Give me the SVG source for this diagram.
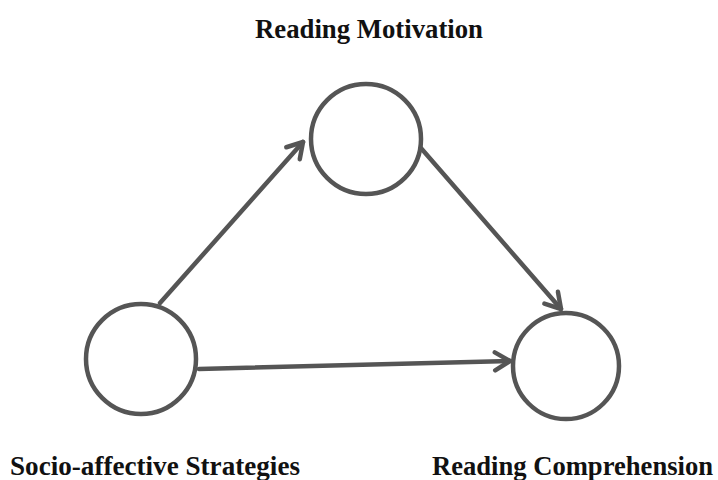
<svg xmlns="http://www.w3.org/2000/svg" width="718" height="480" viewBox="0 0 718 480">
<style>
.node{fill:#fff;stroke:#555;stroke-width:4.5}
.edge{fill:none;stroke:#555;stroke-width:4.5;stroke-linecap:round}
.lbl{font-family:"Liberation Serif","Times New Roman",serif;font-weight:bold;font-size:27px;fill:#111}
</style>
<defs>
<marker id="arr" markerUnits="userSpaceOnUse" markerWidth="30" markerHeight="30" viewBox="-20 -15 30 30" refX="0" refY="0" orient="auto">
<path d="M-15,-9 L0,0 L-15,9" fill="none" stroke="#555" stroke-width="4.5" stroke-linecap="round" stroke-linejoin="round"/>
</marker>
</defs>
<rect width="718" height="480" fill="#fff"/>
<g id="connectors">
<line class="edge" x1="160" y1="303" x2="303" y2="142" marker-end="url(#arr)"/>
<line class="edge" x1="420" y1="147" x2="561" y2="309" marker-end="url(#arr)"/>
<line class="edge" x1="199" y1="369" x2="510" y2="361" marker-end="url(#arr)"/>
</g>
<g id="reading-motivation">
<circle class="node" cx="366" cy="139" r="55"/>
<text class="lbl" x="255" y="38" textLength="228" lengthAdjust="spacingAndGlyphs">Reading Motivation</text>
</g>
<g id="socio-affective-strategies">
<circle class="node" cx="141" cy="359" r="55"/>
<text class="lbl" x="10" y="475" textLength="290" lengthAdjust="spacingAndGlyphs">Socio-affective Strategies</text>
</g>
<g id="reading-comprehension">
<circle class="node" cx="566" cy="366" r="53"/>
<text class="lbl" x="432" y="475" textLength="281" lengthAdjust="spacingAndGlyphs">Reading Comprehension</text>
</g>
</svg>
